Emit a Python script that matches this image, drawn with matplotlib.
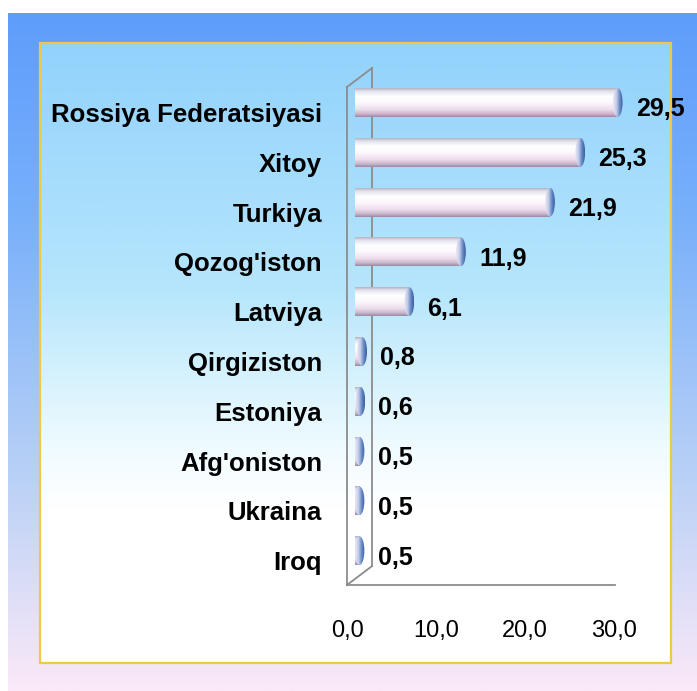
import numpy as np
import matplotlib
matplotlib.use('Agg')
import matplotlib.pyplot as plt
from matplotlib.colors import LinearSegmentedColormap
from matplotlib.patches import Ellipse, Rectangle

plt.rcParams['font.family'] = ['Liberation Sans', 'DejaVu Sans']

# data
countries = ["Rossiya Federatsiyasi", "Xitoy", "Turkiya", "Qozog'iston", "Latviya",
             "Qirgiziston", "Estoniya", "Afg'oniston", "Ukraina", "Iroq"]
shares = [29.5, 25.3, 21.9, 11.9, 6.1, 0.8, 0.6, 0.5, 0.5, 0.5]
x_ticks = [0, 10, 20, 30]
x_tick_labels = ["0,0", "10,0", "20,0", "30,0"]

W, H = 697, 691
fig = plt.figure(figsize=(W / 100, H / 100), dpi=100)

# background panels (pixel coords)
bg = fig.add_axes([0, 0, 1, 1])
bg.axis('off')


def vgrad(ax, extent, stops, z=0):
    cm = LinearSegmentedColormap.from_list('g', stops)
    g = np.linspace(0, 1, 256).reshape(-1, 1)
    return ax.imshow(g, cmap=cm, extent=extent, aspect='auto', origin='upper',
                     interpolation='bilinear', zorder=z)


vgrad(bg, (8, W, H, 13), [(0, '#5e9dfc'), (0.3, '#78b0fa'), (0.7, '#bcd2f6'), (1, '#fbe9f8')])
vgrad(bg, (40, 671, 663, 43), [(0, '#92d2fc'), (0.4, '#b6e6fc'), (0.65, '#effbff'), (0.75, '#ffffff'), (1, '#ffffff')], z=1)
bg.add_patch(Rectangle((40, 43), 631, 620, fill=False, edgecolor='#f0c844', lw=1.6, zorder=2))
bg.set_xlim(0, W)
bg.set_ylim(H, 0)

# main chart
ax = fig.add_axes([347 / W, 1 - 585 / H, (615 - 347) / W, (585 - 87) / H])
ax.set_facecolor('none')
frame_col = '#8c8c8c'
for s in ['top', 'right']:
    ax.spines[s].set_visible(False)
for s in ['left', 'bottom']:
    ax.spines[s].set_color(frame_col)
    ax.spines[s].set_linewidth(1.3)

ymin, ymax = -0.311, 9.689
dx, dy = 2.81, -0.38
ax.plot([dx, dx], [ymin + dy, ymax + dy], color=frame_col, lw=1.3, zorder=1, clip_on=False)
ax.plot([0, dx], [ymin, ymin + dy], color=frame_col, lw=1.3, zorder=1, clip_on=False)
ax.plot([0, dx], [ymax, ymax + dy], color=frame_col, lw=1.3, zorder=1, clip_on=False)

bar_cmap = LinearSegmentedColormap.from_list('bar', [
    (0, '#b4b4c4'), (0.1, '#e2e2ec'), (0.28, '#ffffff'), (0.5, '#fcf8fc'),
    (0.75, '#ecdcec'), (0.9, '#c8b6cc'), (1, '#9a8ca4')])
cap_cmap = LinearSegmentedColormap.from_list('cap', [
    (0, '#ece8f4'), (0.35, '#c4cce8'), (0.7, '#6286c4'), (1, '#3e5e9e')])
body = np.linspace(0, 1, 64).reshape(-1, 1)
capimg = np.tile(np.linspace(0, 1, 64), (64, 1))

x0 = 0.9
h = 0.58
cw = 1.1
for i, v in enumerate(shares):
    ax.imshow(body, cmap=bar_cmap, extent=(x0, x0 + v, i + h / 2, i - h / 2),
              aspect='auto', origin='upper', interpolation='bilinear', zorder=3, clip_on=False)
    e = Ellipse((x0 + v, i), width=cw, height=h, facecolor='none', edgecolor='none', zorder=4)
    ax.add_patch(e)
    im = ax.imshow(capimg, cmap=cap_cmap, extent=(x0 + v - cw / 2, x0 + v + cw / 2, i + h / 2, i - h / 2),
                   aspect='auto', origin='upper', interpolation='bilinear', zorder=4)
    im.set_clip_path(e)
    im.set_clip_box(fig.bbox)
    ax.annotate(f"{v:.1f}".replace('.', ','), xy=(x0 + v, i), xytext=(13, -5),
                textcoords='offset points', ha='left', va='center', annotation_clip=False,
                fontsize=18, fontweight='bold', color='black', zorder=6)
    ax.annotate(countries[i], xy=(0, i), xycoords=('axes fraction', 'data'), xytext=(-18, -9),
                textcoords='offset points', ha='right', va='center', annotation_clip=False,
                fontsize=18.5, fontweight='bold', color='black')

ax.set_xlim(0, 30.1)
ax.set_ylim(ymax, ymin)
ax.set_xticks(x_ticks, x_tick_labels)
ax.set_yticks([])
ax.tick_params(axis='x', length=0, pad=25, labelsize=17)

fig.savefig('out.png', dpi=100)
